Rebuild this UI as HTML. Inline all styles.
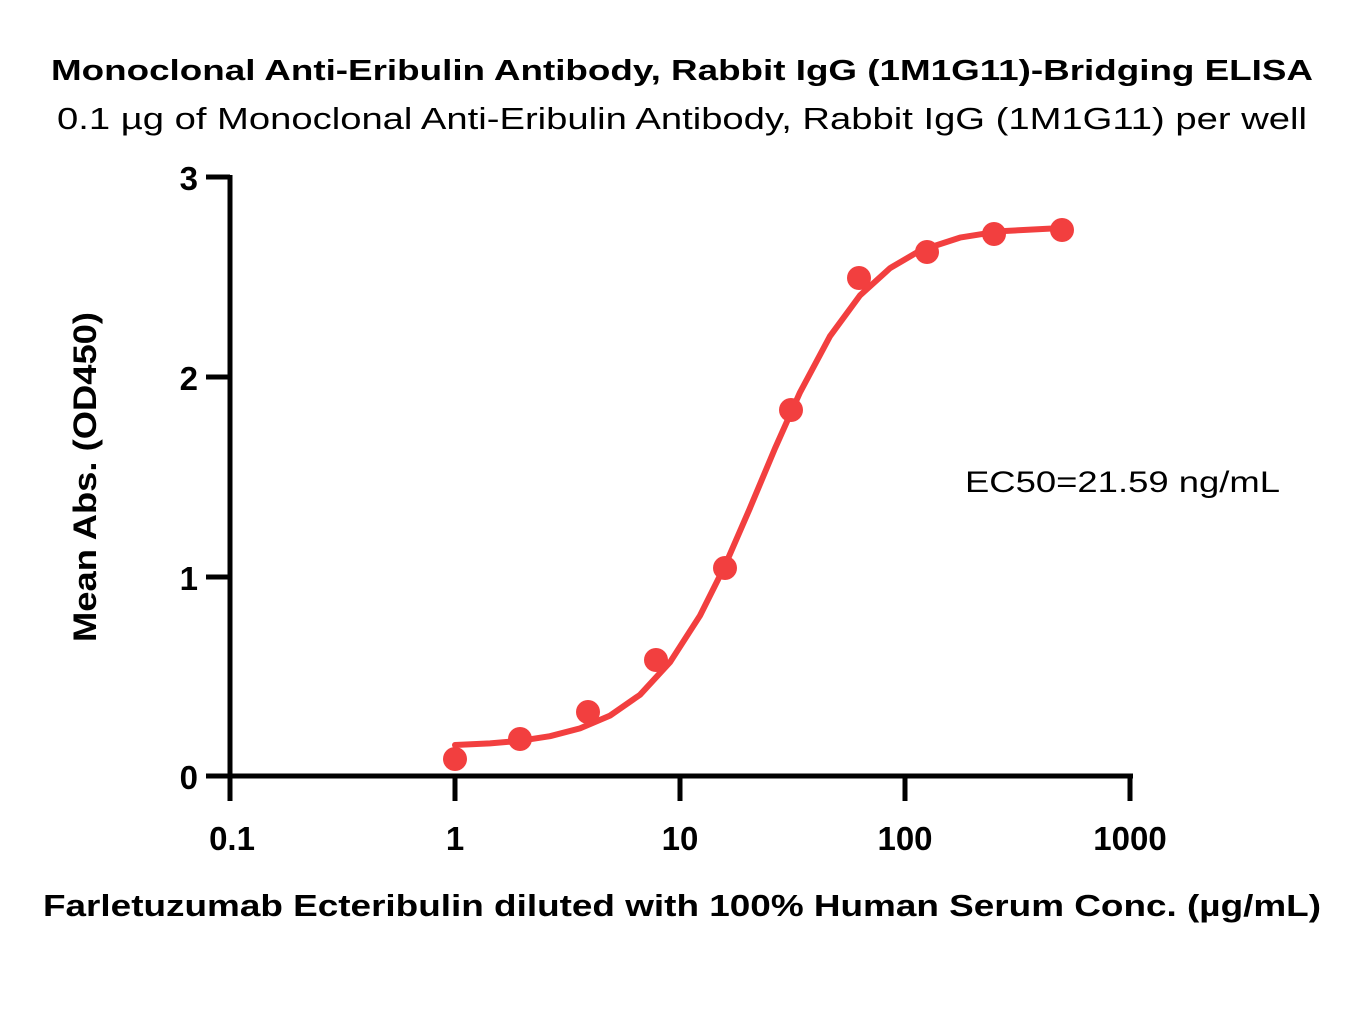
<!DOCTYPE html>
<html><head><meta charset="utf-8"><style>html,body{margin:0;padding:0;background:#fff}svg{display:block}</style></head>
<body>
<svg width="1365" height="1023" viewBox="0 0 1365 1023" xmlns="http://www.w3.org/2000/svg" font-family="'Liberation Sans', sans-serif">
<text x="682" y="80" text-anchor="middle" font-weight="bold" font-size="29" textLength="1262" lengthAdjust="spacingAndGlyphs">Monoclonal Anti-Eribulin Antibody, Rabbit IgG (1M1G11)-Bridging ELISA</text>
<text x="682" y="129" text-anchor="middle" font-size="31" textLength="1250" lengthAdjust="spacingAndGlyphs">0.1 µg of Monoclonal Anti-Eribulin Antibody, Rabbit IgG (1M1G11) per well</text>
<g stroke="#000" stroke-width="5" fill="none">
<line x1="230" y1="175" x2="230" y2="779"/>
<line x1="206" y1="177" x2="230" y2="177"/>
<line x1="206" y1="377" x2="230" y2="377"/>
<line x1="206" y1="577" x2="230" y2="577"/>
<line x1="206" y1="776" x2="1133" y2="776"/>
<line x1="230" y1="776" x2="230" y2="801"/>
<line x1="455" y1="776" x2="455" y2="801"/>
<line x1="680" y1="776" x2="680" y2="801"/>
<line x1="905" y1="776" x2="905" y2="801"/>
<line x1="1130" y1="776" x2="1130" y2="801"/>
</g>
<g font-weight="bold" font-size="33" text-anchor="end">
<text x="198" y="190">3</text><text x="198" y="390">2</text><text x="198" y="590">1</text><text x="198" y="789">0</text>
</g>
<g font-weight="bold" font-size="33" text-anchor="middle">
<text x="232" y="850">0.1</text><text x="455" y="850">1</text><text x="680" y="850">10</text><text x="905" y="850">100</text><text x="1130" y="850">1000</text>
</g>
<text transform="translate(96,477) rotate(-90)" text-anchor="middle" font-weight="bold" font-size="32" textLength="330" lengthAdjust="spacingAndGlyphs">Mean Abs. (OD450)</text>
<text x="682" y="916" text-anchor="middle" font-weight="bold" font-size="31" textLength="1278" lengthAdjust="spacingAndGlyphs">Farletuzumab Ecteribulin diluted with 100% Human Serum Conc. (µg/mL)</text>
<text x="965" y="492" font-size="30" textLength="315" lengthAdjust="spacingAndGlyphs">EC50=21.59 ng/mL</text>
<polyline fill="none" stroke="#f23f3f" stroke-width="6" stroke-linejoin="round" stroke-linecap="round"
points="455,745 490,743.4 520,740.8 550,736.2 580,728.4 610,715.6 640,694.8 670,662.2 700,615.6 725,565.6 750,508 775,448.4 800,392.4 830,336.2 860,295.4 890,268.2 920,250.6 960,237.6 1000,231.2 1062,228"/>
<g fill="#f23f3f">
<circle cx="455" cy="759" r="12"/><circle cx="520" cy="739" r="12"/><circle cx="588" cy="712" r="12"/><circle cx="656" cy="660" r="12"/><circle cx="725" cy="568" r="12"/><circle cx="791" cy="410" r="12"/><circle cx="859" cy="278" r="12"/><circle cx="927" cy="252" r="12"/><circle cx="994" cy="234" r="12"/><circle cx="1062" cy="230" r="12"/>
</g>
</svg>
</body></html>
